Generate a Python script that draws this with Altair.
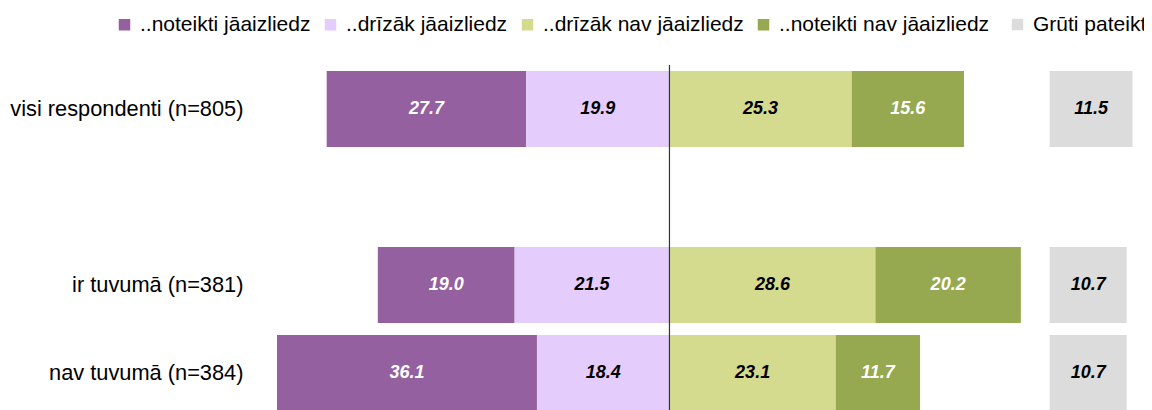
import altair as alt
import pandas as pd

groups = ["visi respondenti (n=805)", "ir tuvumā (n=381)", "nav tuvumā (n=384)"]
row_domain = ["visi respondenti (n=805)", " ", "ir tuvumā (n=381)", "nav tuvumā (n=384)"]
cats = ["..noteikti jāaizliedz", "..drīzāk jāaizliedz", "..drīzāk nav jāaizliedz", "..noteikti nav jāaizliedz"]
gruti_label = "Grūti pateikt"

noteikti_ja = [27.7, 19.0, 36.1]
drizak_ja = [19.9, 21.5, 18.4]
drizak_nav = [25.3, 28.6, 23.1]
noteikti_nav = [15.6, 20.2, 11.7]
gruti = [11.5, 10.7, 10.7]

colors = ["#9560A0", "#E4CCFC", "#D5DB8E", "#96A850"]
text_colors = ["white", "black", "black", "white"]
GRUTI_START = 52.8

rows = []
for i, g in enumerate(groups):
    a, b, c, d = noteikti_ja[i], drizak_ja[i], drizak_nav[i], noteikti_nav[i]
    rows.append(dict(group=g, cat=cats[0], val=a, x=-(a + b), x2=-b))
    rows.append(dict(group=g, cat=cats[1], val=b, x=-b, x2=0))
    rows.append(dict(group=g, cat=cats[2], val=c, x=0, x2=c))
    rows.append(dict(group=g, cat=cats[3], val=d, x=c, x2=c + d))
df = pd.DataFrame(rows)

gdf = pd.DataFrame(dict(group=groups, cat=[gruti_label] * 3, val=gruti,
                        x=[GRUTI_START] * 3, x2=[GRUTI_START + v for v in gruti]))

FONT = "Liberation Sans"
xs = alt.Scale(domain=[-57, 65.9], nice=False, zero=False)
ys = alt.Scale(domain=row_domain, range=[0, 352], paddingInner=0.136, paddingOuter=0.068)
yenc = alt.Y("group:N", scale=ys, title=None,
             axis=alt.Axis(ticks=False, domain=False, labelFontSize=21.8, labelFont=FONT,
                           labelColor="black", labelPadding=16, labelLimit=400))

leg_common = dict(orient="none", direction="horizontal", title=None, symbolType="square",
                  symbolSize=132, symbolStrokeWidth=0, labelFontSize=21, labelFont=FONT,
                  labelColor="black", labelOffset=5, columnPadding=9, padding=0, labelLimit=400,
                  symbolOpacity=1)

bars = alt.Chart(df).mark_bar().encode(
    x=alt.X("x:Q", scale=xs, axis=None),
    x2="x2:Q",
    y=yenc,
    color=alt.Color("cat:N", scale=alt.Scale(domain=cats, range=colors),
                    legend=alt.Legend(legendX=-145, legendY=-51, **leg_common)),
)

texts = alt.Chart(df).transform_calculate(xm="(datum.x + datum.x2) / 2").mark_text(
    font=FONT, fontSize=18, fontWeight="bold", fontStyle="italic", baseline="middle", align="center"
).encode(
    x=alt.X("xm:Q", scale=xs, axis=None),
    y=yenc,
    text=alt.Text("val:Q", format=".1f"),
    color=alt.Color("cat:N", scale=alt.Scale(domain=cats, range=text_colors), legend=None),
)

gbars = alt.Chart(gdf).mark_bar().encode(
    x=alt.X("x:Q", scale=xs, axis=None),
    x2="x2:Q",
    y=yenc,
    color=alt.Color("cat:N", scale=alt.Scale(domain=[gruti_label], range=["#DCDCDC"]),
                    legend=alt.Legend(legendX=748, legendY=-51, **leg_common)),
)

gtexts = alt.Chart(gdf).transform_calculate(xm="(datum.x + datum.x2) / 2").mark_text(
    font=FONT, fontSize=18, fontWeight="bold", fontStyle="italic", baseline="middle", align="center",
    color="black"
).encode(
    x=alt.X("xm:Q", scale=xs, axis=None),
    y=yenc,
    text=alt.Text("val:Q", format=".1f"),
)

rule = alt.Chart(pd.DataFrame({"x": [0]})).mark_rule(color="#333333", strokeWidth=1.2).encode(
    x=alt.X("x:Q", scale=xs, axis=None),
    y=alt.value(0),
    y2=alt.value(360),
)

chart = alt.layer(bars, texts, gbars, gtexts, rule).resolve_scale(color="independent").properties(
    width=885, height=337,
    autosize=alt.AutoSizeParams(type="none"),
    padding={"left": 251, "top": 57, "right": 0, "bottom": 8},
).configure_view(stroke=None)

chart.save("out.html", embed_options={"renderer": "svg", "actions": False})
